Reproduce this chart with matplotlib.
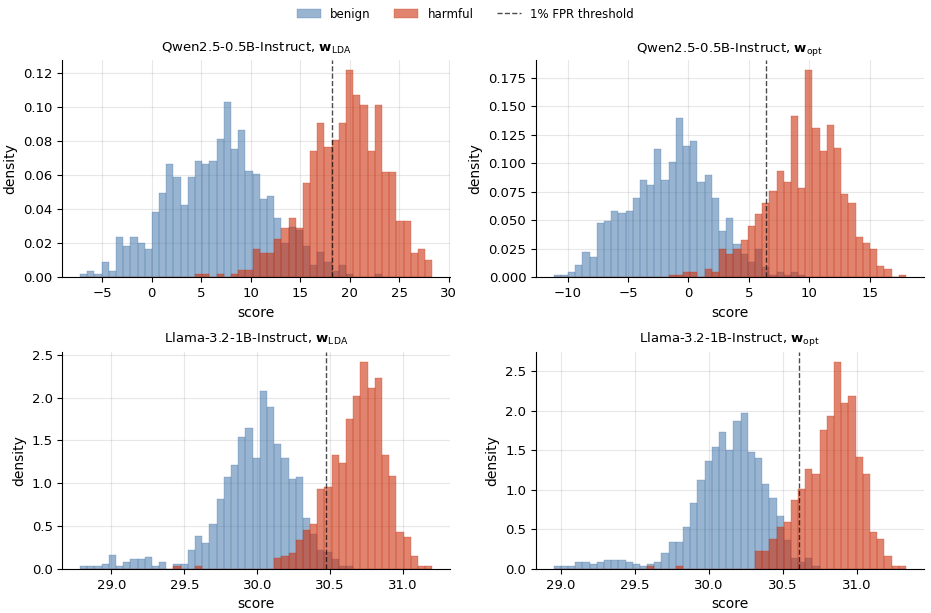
import matplotlib.pyplot as plt
import numpy as np

# each panel: 49 shared histogram bins between lo and hi (score), densities
qwen_lda_range = (-7.26, 28.36)
qwen_lda_benign = [0.002, 0.0037, 0.002, 0.009, 0.0037, 0.0236, 0.0183, 0.0236, 0.0201, 0.0166,
                   0.0382, 0.0494, 0.0663, 0.0587, 0.0423, 0.0587, 0.0681, 0.0663, 0.0681, 0.081,
                   0.1026, 0.0751, 0.0862, 0.0622, 0.0605, 0.0459, 0.0476, 0.0347, 0.0199, 0.0295,
                   0.0279, 0.0183, 0.0072, 0.0148, 0.009, 0.0037, 0.0072, 0.002, 0, 0,
                   0, 0.002, 0, 0, 0, 0, 0, 0, 0]
qwen_lda_harmful = [0, 0, 0, 0, 0, 0, 0, 0, 0, 0,
                    0, 0, 0, 0, 0, 0, 0.002, 0.002, 0, 0.002,
                    0, 0.002, 0.0043, 0.0043, 0.0166, 0.014, 0.014, 0.0224, 0.0289, 0.0347,
                    0.0289, 0.0552, 0.074, 0.0903, 0.0763, 0.0804, 0.0903, 0.1214, 0.1067, 0.1009,
                    0.074, 0.1009, 0.0617, 0.0617, 0.033, 0.033, 0.0142, 0.0166, 0.0101]
qwen_lda_thresh = 18.26

qwen_opt_range = (-11.16, 18.01)
qwen_opt_benign = [0.002, 0.002, 0.0047, 0.0108, 0.0222, 0.0178, 0.0476, 0.0493, 0.058, 0.0563,
                   0.058, 0.0694, 0.0852, 0.0808, 0.1123, 0.0852, 0.1009, 0.1394, 0.1149, 0.1193,
                   0.0834, 0.0896, 0.0694, 0.0405, 0.0519, 0.0292, 0.0204, 0.0134, 0.0248, 0.009,
                   0.002, 0.0047, 0.002, 0.0047, 0.002, 0, 0, 0, 0, 0,
                   0, 0, 0, 0, 0, 0, 0, 0, 0]
qwen_opt_harmful = [0, 0, 0, 0, 0, 0, 0, 0, 0, 0,
                    0, 0, 0, 0, 0, 0, 0.002, 0.002, 0.0047, 0.0047,
                    0, 0.0073, 0.005, 0.0248, 0.0204, 0.0248, 0.0327, 0.0449, 0.0554, 0.065,
                    0.0756, 0.0931, 0.0834, 0.1412, 0.0782, 0.1814, 0.1307, 0.1106, 0.1333, 0.1132,
                    0.0729, 0.065, 0.0353, 0.03, 0.0248, 0.0099, 0.0073, 0, 0.002]
qwen_opt_thresh = 6.46

llama_lda_range = (28.785, 31.201)
llama_lda_benign = [0.031, 0.031, 0.031, 0.054, 0.159, 0.031, 0.078, 0.112, 0.112, 0.136,
                    0.031, 0.078, 0, 0.054, 0.054, 0.217, 0.38, 0.298, 0.519, 0.81,
                    1.078, 1.217, 1.543, 1.647, 1.298, 2.078, 1.891, 1.461, 1.298, 1.054,
                    1.078, 0.589, 0.41, 0.217, 0.2, 0.112, 0.031, 0.031, 0, 0,
                    0, 0, 0, 0, 0, 0, 0, 0, 0]
llama_lda_harmful = [0, 0, 0, 0, 0, 0, 0, 0, 0, 0,
                     0, 0, 0, 0.031, 0, 0, 0.031, 0, 0, 0,
                     0, 0, 0, 0, 0, 0, 0, 0.124, 0.147, 0.182,
                     0.333, 0.45, 0.519, 0.938, 0.961, 1.333, 1.24, 1.752, 2.019, 2.415,
                     2.112, 2.229, 1.333, 1.089, 0.426, 0.368, 0.147, 0.031, 0.031]
llama_lda_thresh = 30.47

llama_opt_range = (28.95, 31.329)
llama_opt_benign = [0.034, 0.034, 0.034, 0.084, 0.084, 0.059, 0.084, 0.109, 0.109, 0.109,
                    0.084, 0.059, 0.034, 0.059, 0.084, 0.197, 0.336, 0.336, 0.525, 0.828,
                    1.13, 1.37, 1.546, 1.735, 1.508, 1.874, 1.975, 1.483, 1.408, 1.08,
                    0.903, 0.664, 0.361, 0.134, 0.084, 0.134, 0.034, 0, 0, 0,
                    0, 0, 0, 0, 0, 0, 0, 0, 0]
llama_opt_harmful = [0, 0, 0, 0, 0, 0, 0, 0, 0, 0,
                     0, 0, 0, 0.034, 0, 0, 0, 0.034, 0, 0,
                     0, 0, 0, 0, 0, 0, 0, 0, 0.223, 0.223,
                     0.374, 0.525, 0.588, 0.866, 1.017, 1.269, 1.206, 1.761, 1.937, 2.618,
                     2.101, 2.189, 1.42, 1.206, 0.462, 0.374, 0.16, 0.034, 0.034]
llama_opt_thresh = 30.61

panels = [
    ("Qwen2.5-0.5B-Instruct", "LDA", qwen_lda_range, qwen_lda_benign, qwen_lda_harmful, qwen_lda_thresh),
    ("Qwen2.5-0.5B-Instruct", "opt", qwen_opt_range, qwen_opt_benign, qwen_opt_harmful, qwen_opt_thresh),
    ("Llama-3.2-1B-Instruct", "LDA", llama_lda_range, llama_lda_benign, llama_lda_harmful, llama_lda_thresh),
    ("Llama-3.2-1B-Instruct", "opt", llama_opt_range, llama_opt_benign, llama_opt_harmful, llama_opt_thresh),
]

BLUE = '#4477AA'
RED = '#CC3311'

plt.rcParams['font.size'] = 10
plt.rcParams['xtick.labelsize'] = 9.5
plt.rcParams['ytick.labelsize'] = 9.5

fig, axes = plt.subplots(2, 2, figsize=(9.31, 6.13), dpi=100)

for ax, (model, vec, rng, ben, harm, thr) in zip(axes.flat, panels):
    edges = np.linspace(rng[0], rng[1], len(ben) + 1)
    centers = (edges[:-1] + edges[1:]) / 2
    ax.hist(centers, bins=edges, weights=ben, color=BLUE, alpha=0.55,
            edgecolor=BLUE, linewidth=0.35, label='benign')
    ax.hist(centers, bins=edges, weights=harm, color=RED, alpha=0.6,
            edgecolor=RED, linewidth=0.35, label='harmful')
    ax.axvline(thr, color='k', linestyle='--', linewidth=1, alpha=0.7, label='1% FPR threshold')
    ax.set_title(model + r', $\mathbf{w}_{\mathrm{' + vec + '}}$', fontsize=9.5)
    ax.set_xlabel('score')
    ax.set_ylabel('density')
    ax.grid(True, alpha=0.3)
    ax.set_axisbelow(True)
    ax.spines[['top', 'right']].set_visible(False)

handles, labels = axes[0, 0].get_legend_handles_labels()
fig.legend(handles, labels, loc='upper center', ncol=3, frameon=False,
           bbox_to_anchor=(0.5, 1.005), fontsize=8.5)

fig.subplots_adjust(left=0.067, right=0.992, top=0.902, bottom=0.072, wspace=0.222, hspace=0.343)
fig.savefig('out.png')
